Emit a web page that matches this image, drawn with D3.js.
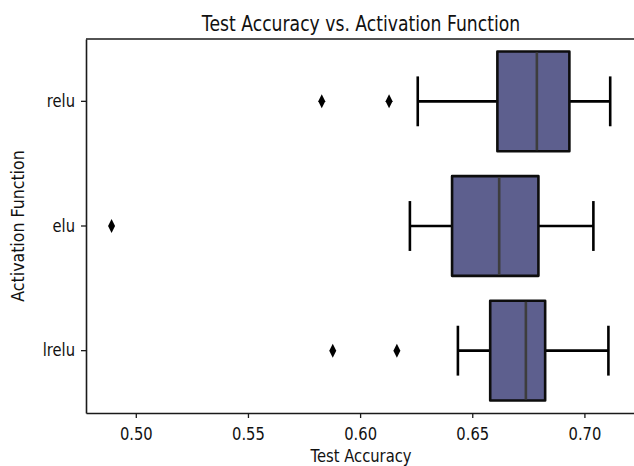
<!DOCTYPE html>
<html>
<head>
<meta charset="utf-8">
<script src="https://cdn.jsdelivr.net/npm/d3@7"></script>
<style>
  body { margin: 0; background: #fff; }
  svg { display: block; font-family: "DejaVu Sans", sans-serif; }
</style>
</head>
<body>
<svg id="chart" width="634" height="466"></svg>
<script>
// box summaries (whisker low, q1, median, q3, whisker high)
var categories = ["relu", "elu", "lrelu"];
var whiskerLow  = [0.6257, 0.6222, 0.6436];
var q1          = [0.6612, 0.6410, 0.6580];
var median      = [0.6788, 0.6620, 0.6739];
var q3          = [0.6933, 0.6795, 0.6825];
var whiskerHigh = [0.7115, 0.7040, 0.7107];
var outliers    = [[0.5829, 0.6129], [0.4892], [0.5878, 0.6164]];
var xTicks = [0.50, 0.55, 0.60, 0.65, 0.70];

var boxes = categories.map(function(c, i) {
  return { name: c, lo: whiskerLow[i], q1: q1[i], med: median[i],
           q3: q3[i], hi: whiskerHigh[i], out: outliers[i] };
});

// plot area (avoid "top", it is window.top)
var m_left = 86, m_right = 636, m_top = 39, m_bottom = 413;
var fill = "#5d5f8e";
// the source picture has narrow-looking text
var sx = 0.82;

var svg = d3.select("#chart");

var x = d3.scaleLinear().domain([0.4778, 0.7230]).range([m_left, m_right]);
var y = d3.scaleBand().domain(categories).range([m_top, m_bottom]);
var bw = y.bandwidth() * 0.8;
function cy(d) { return y(d.name) + y.bandwidth() / 2; }

var g = svg.append("g");
var bx = g.selectAll("g.box").data(boxes).enter().append("g").attr("class", "box");

// whiskers
bx.append("line")
  .attr("x1", function(d) { return x(d.lo); })
  .attr("x2", function(d) { return x(d.q1); })
  .attr("y1", cy).attr("y2", cy)
  .attr("stroke", "#000").attr("stroke-width", 2.6);
bx.append("line")
  .attr("x1", function(d) { return x(d.q3); })
  .attr("x2", function(d) { return x(d.hi); })
  .attr("y1", cy).attr("y2", cy)
  .attr("stroke", "#000").attr("stroke-width", 2.6);
// caps
["lo", "hi"].forEach(function(k) {
  bx.append("line")
    .attr("x1", function(d) { return x(d[k]); })
    .attr("x2", function(d) { return x(d[k]); })
    .attr("y1", function(d) { return cy(d) - bw / 4; })
    .attr("y2", function(d) { return cy(d) + bw / 4; })
    .attr("stroke", "#000").attr("stroke-width", 2.6);
});

bx.append("rect")
  .attr("x", function(d) { return x(d.q1); })
  .attr("width", function(d) { return x(d.q3) - x(d.q1); })
  .attr("y", function(d) { return cy(d) - bw / 2; })
  .attr("height", bw)
  .attr("fill", fill).attr("stroke", "#0d0d0d").attr("stroke-width", 2.6)
  .attr("stroke-linejoin", "round");

bx.append("line")
  .attr("x1", function(d) { return x(d.med); })
  .attr("x2", function(d) { return x(d.med); })
  .attr("y1", function(d) { return cy(d) - bw / 2 + 1; })
  .attr("y2", function(d) { return cy(d) + bw / 2 - 1; })
  .attr("stroke", "#3d3d3d").attr("stroke-width", 2.6);

// outliers (thin diamonds)
bx.each(function(d) {
  var yc = cy(d);
  d3.select(this).selectAll("path.out").data(d.out).enter().append("path")
    .attr("class", "out")
    .attr("d", function(v) {
      var cx = x(v);
      return "M" + cx + "," + (yc - 7) + "L" + (cx + 3.5) + "," + yc +
             "L" + cx + "," + (yc + 7) + "L" + (cx - 3.5) + "," + yc + "Z";
    })
    .attr("fill", "#000");
});

// axes
var xAxis = svg.append("g").attr("transform", "translate(0," + m_bottom + ")")
  .call(d3.axisBottom(x).tickValues(xTicks).tickFormat(d3.format(".2f"))
        .tickSize(5).tickSizeOuter(0));
var yAxis = svg.append("g").attr("transform", "translate(" + m_left + ",0)")
  .call(d3.axisLeft(y).tickSize(5).tickSizeOuter(0));

[xAxis, yAxis].forEach(function(a) {
  a.select(".domain").attr("stroke", "#1a1a1a").attr("stroke-width", 1.6);
  a.selectAll(".tick line").attr("stroke", "#1a1a1a").attr("stroke-width", 1.3);
  a.selectAll(".tick text").attr("fill", "#111")
    .style("font-size", "18px").style("font-family", "DejaVu Sans, sans-serif")
    .attr("transform", "scale(" + sx + ",1)");
});
xAxis.selectAll(".tick text").attr("y", 27).attr("dy", null);
yAxis.selectAll(".tick text").attr("x", -11 / sx);

// top & right spines
svg.append("line").attr("x1", m_left).attr("x2", m_right).attr("y1", m_top).attr("y2", m_top)
  .attr("stroke", "#1a1a1a").attr("stroke-width", 1.6);
svg.append("line").attr("x1", m_right).attr("x2", m_right).attr("y1", m_top).attr("y2", m_bottom)
  .attr("stroke", "#1a1a1a").attr("stroke-width", 1.6);

// labels
svg.append("text")
  .attr("transform", "translate(" + (m_left + m_right) / 2 + ",31) scale(" + sx + ",1)")
  .attr("text-anchor", "middle").style("font-size", "21px").attr("fill", "#111")
  .text("Test Accuracy vs. Activation Function");
svg.append("text")
  .attr("transform", "translate(" + (m_left + m_right) / 2 + ",462) scale(" + sx + ",1)")
  .attr("text-anchor", "middle").style("font-size", "18px").attr("fill", "#111")
  .text("Test Accuracy");
svg.append("text")
  .attr("transform", "translate(24," + (m_top + m_bottom) / 2 + ") rotate(-90) scale(0.93,1)")
  .attr("text-anchor", "middle").style("font-size", "17px").attr("fill", "#111")
  .text("Activation Function");
</script>
</body>
</html>
